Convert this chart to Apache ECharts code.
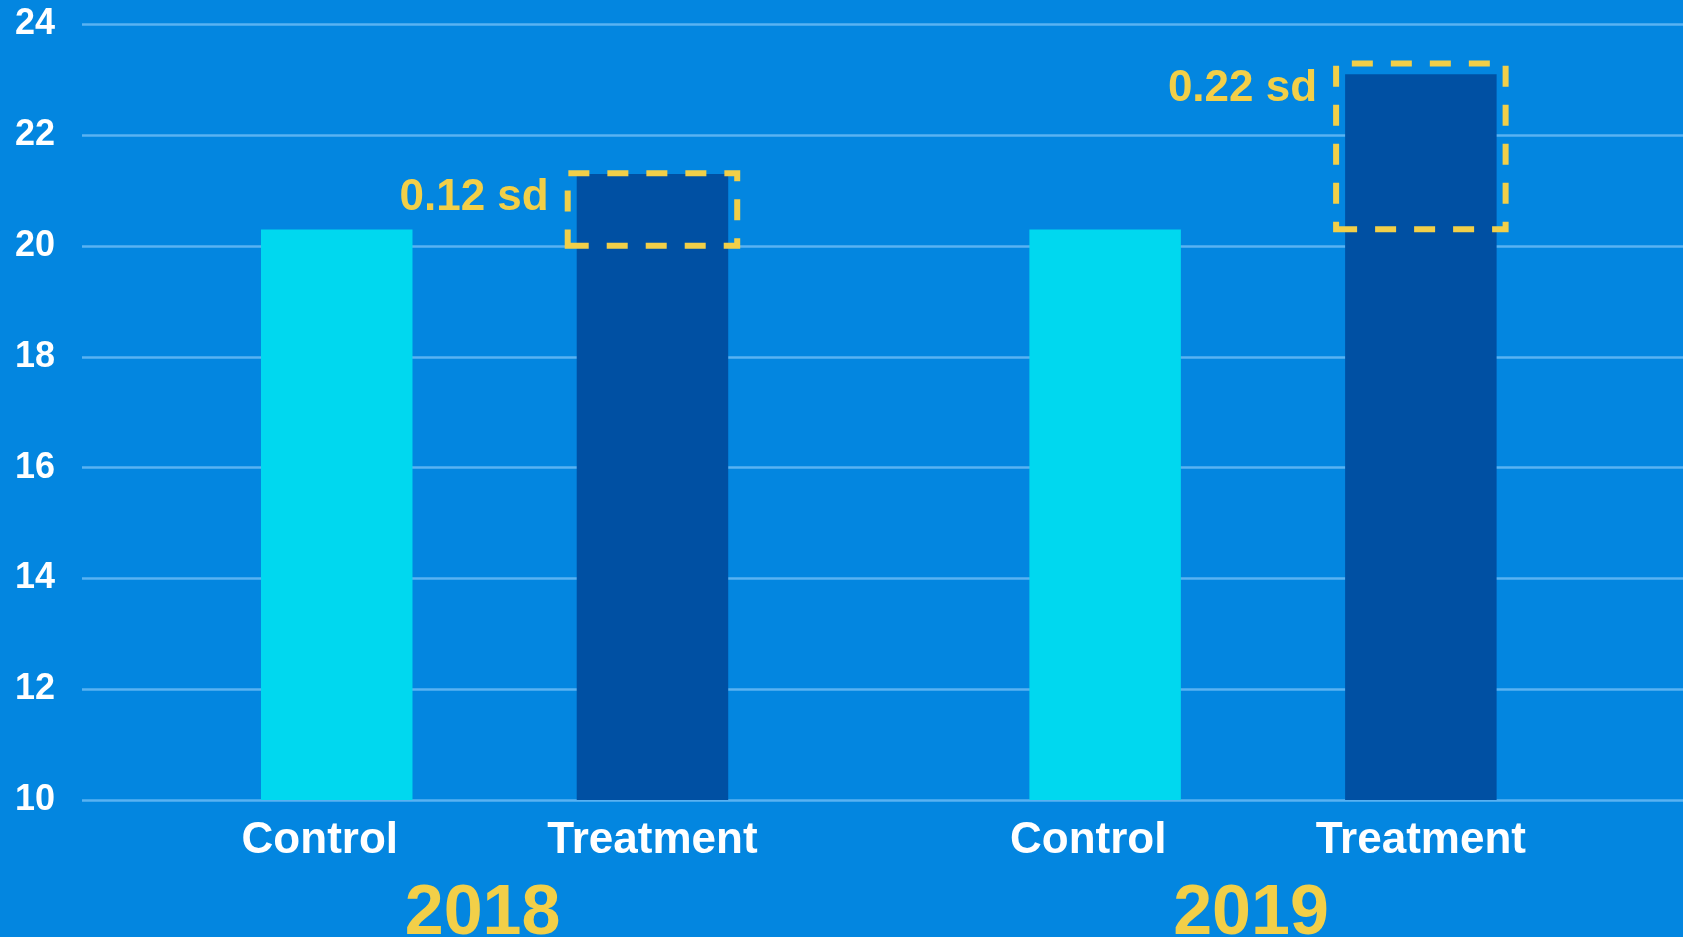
<!DOCTYPE html>
<html><head><meta charset="utf-8">
<script src="https://cdn.jsdelivr.net/npm/echarts@6/dist/echarts.min.js"></script>
<style>html,body{margin:0;padding:0;background:#0386E0}#c{width:1683px;height:937px}</style>
</head><body><div id="c"></div>
<script>
const years = ['2018', '2019'];
const groupNames = ['Control', 'Treatment'];
const controlValues = [20.3, 20.3];
const treatmentValues = [21.3, 23.1];
const boxBottom = [19.95, 20.25];
const boxTop = [21.37, 23.35];
const effectLabels = ['0.12 sd', '0.22 sd'];
const yMin = 10, yMax = 24, yStep = 2;

const FONT = 'Liberation Sans, Arial, sans-serif';
const WHITE = '#FFFFFF';
const YELLOW = '#F2CF48';
const BG = '#0386E0';
const CYAN = '#00D8EF';
const NAVY = '#0050A3';
const GRIDC = '#5AB2F2';

const chart = echarts.init(document.getElementById('c'), null, {renderer: 'canvas'});
const yBase = {type: 'value', min: yMin, max: yMax, interval: yStep};

const option = {
  backgroundColor: BG,
  animation: false,
  grid: [
    {left: 82, right: 0, top: 24.5, bottom: 137, containLabel: false, outerBoundsMode: 'none'},
    {left: 110.4, right: 35.8, top: 24.5, bottom: 137, containLabel: false, outerBoundsMode: 'none'}
  ],
  xAxis: [
    {gridIndex: 0, type: 'value', show: false},
    {gridIndex: 1, type: 'category', data: years,
      axisLine: {show: false}, axisTick: {show: false}, splitLine: {show: false},
      axisLabel: {
        interval: 0, margin: 15,
        formatter: function (v) { return '{c|' + groupNames[0] + '}{t|' + groupNames[1] + '}\n{y|' + v + '}'; },
        rich: {
          c: {width: 315.6, align: 'center', fontSize: 44, fontWeight: 'bold', color: WHITE, fontFamily: FONT, lineHeight: 52},
          t: {width: 349.6, align: 'center', fontSize: 44, fontWeight: 'bold', color: WHITE, fontFamily: FONT, lineHeight: 52},
          y: {align: 'center', fontSize: 70, fontWeight: 'bold', color: YELLOW, fontFamily: FONT, lineHeight: 96, padding: [0, 24, 0, 0]}
        }
      }
    },
    {gridIndex: 1, type: 'category', data: years, show: false}
  ],
  yAxis: [
    Object.assign({gridIndex: 0,
      axisLine: {show: false}, axisTick: {show: false},
      axisLabel: {color: WHITE, fontSize: 36, fontWeight: 'bold', fontFamily: FONT, margin: 27},
      splitLine: {show: true, lineStyle: {color: GRIDC, width: 2.5}}
    }, yBase),
    Object.assign({gridIndex: 1, show: false, splitLine: {show: false}}, yBase)
  ],
  series: [
    {name: groupNames[0], type: 'bar', xAxisIndex: 1, yAxisIndex: 1, data: controlValues,
      barWidth: 151.5, barGap: '108.4%', itemStyle: {color: CYAN}, silent: true},
    {name: groupNames[1], type: 'bar', xAxisIndex: 1, yAxisIndex: 1, data: treatmentValues,
      barWidth: 151.5, barGap: '108.4%', itemStyle: {color: NAVY}, silent: true},
    {name: 'slot', type: 'bar', xAxisIndex: 2, yAxisIndex: 1, data: years.map(() => '-'),
      barWidth: 175.5, barGap: '79.9%', itemStyle: {color: 'transparent'}, silent: true},
    {name: 'boxBase', type: 'bar', stack: 'box', xAxisIndex: 2, yAxisIndex: 1, data: boxBottom,
      barWidth: 175.5, barGap: '79.9%', itemStyle: {color: 'transparent'}, silent: true},
    {name: 'box', type: 'bar', stack: 'box', xAxisIndex: 2, yAxisIndex: 1,
      data: boxTop.map((t, i) => +(t - boxBottom[i]).toFixed(3)),
      barWidth: 175.5, barGap: '79.9%', silent: true,
      itemStyle: {color: 'transparent', borderColor: YELLOW, borderWidth: 6, borderType: [21, 18]},
      label: {show: true, position: [-16, 28], align: 'right', verticalAlign: 'middle',
        formatter: function (p) { return effectLabels[p.dataIndex]; },
        color: YELLOW, fontSize: 44, fontWeight: 'bold', fontFamily: FONT}
    }
  ]
};
chart.setOption(option);
</script></body></html>
